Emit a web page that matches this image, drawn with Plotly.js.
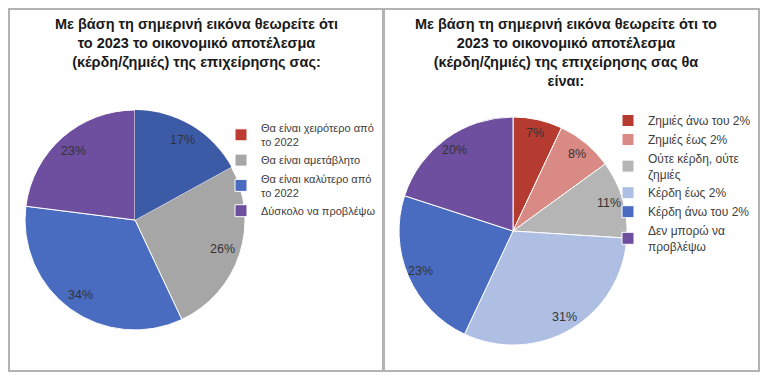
<!DOCTYPE html>
<html>
<head>
<meta charset="utf-8">
<script src="https://cdn.plot.ly/plotly-3.0.1.min.js"></script>
<style>html,body{margin:0;padding:0;background:#fff;}#chart{width:769px;height:384px;}</style>
</head>
<body>
<div id="chart"></div>
<script>
// ---- data ----
const leftTitle = 'Με βάση τη σημερινή εικόνα θεωρείτε ότι<br>το 2023 το οικονομικό αποτέλεσμα<br>(κέρδη/ζημιές) της επιχείρησης σας:';
const rightTitle = 'Με βάση τη σημερινή εικόνα θεωρείτε ότι το<br>2023 το οικονομικό αποτέλεσμα<br>(κέρδη/ζημιές) της επιχείρησης σας θα<br>είναι:';
const leftLabels = ['Θα είναι χειρότερο από<br>το 2022', 'Θα είναι αμετάβλητο', 'Θα είναι καλύτερο από<br>το 2022', 'Δύσκολο να προβλέψω'];
const leftValues = [17, 26, 34, 23];
const rightLabels = ['Ζημιές άνω του 2%', 'Ζημιές έως 2%', 'Ούτε κέρδη, ούτε<br>ζημιές', 'Κέρδη έως 2%', 'Κέρδη άνω του 2%', 'Δεν μπορώ να<br>προβλέψω'];
const rightValues = [7, 8, 11, 31, 23, 20];

// ---- styles ----
const leftLegendColors = ['#be3b33', '#a6a6a6', '#4a6cc0', '#6e4e9e'];
const leftSliceColors = ['#3c5ba7', 'rgba(0,0,0,0)', 'rgba(0,0,0,0)', 'rgba(0,0,0,0)'];
const rightColors = ['#b53a30', '#d98a85', '#b5b5b5', '#aebfe3', '#4a6cc0', '#6e4e9e'];
const W = 769, H = 384;
const px = v => v / W, py = v => 1 - v / H;
const FONT = 'Liberation Sans, Arial, sans-serif';
const lineW = {color: '#ffffff', width: 1};

// pie geometry (pixels): centre and radius
const leftPie = {cx: 135, cy: 220, r: 110, k: 0.84};
const rightPie = {cx: 513, cy: 231, r: 114, k: 0.88};
const domainOf = p => ({x: [px(p.cx - p.r), px(p.cx + p.r)], y: [py(p.cy + p.r), py(p.cy - p.r)]});

// percentage labels placed along each slice's bisector (clockwise from 12 o'clock)
function sliceLabels(values, p) {
  const total = values.reduce((a, b) => a + b, 0);
  let cum = 0;
  return values.map(v => {
    const th = 2 * Math.PI * (cum + v / 2) / total;
    cum += v;
    return {
      text: Math.round(100 * v / total) + '%', xref: 'paper', yref: 'paper',
      x: px(p.cx + p.k * p.r * Math.sin(th)), y: py(p.cy - p.k * p.r * Math.cos(th)),
      xanchor: 'center', yanchor: 'middle', showarrow: false,
      font: {family: FONT, size: 12.5, color: '#333333'}
    };
  });
}

const traces = [
  {
    type: 'pie', labels: leftLabels, values: leftValues, domain: domainOf(leftPie),
    sort: false, direction: 'clockwise', rotation: 0,
    marker: {colors: leftLegendColors, line: lineW},
    textinfo: 'none', hoverinfo: 'label+percent', legend: 'legend'
  },
  {
    type: 'pie', labels: leftLabels, values: leftValues, domain: domainOf(leftPie),
    sort: false, direction: 'clockwise', rotation: 0,
    marker: {colors: leftSliceColors, line: {color: 'rgba(0,0,0,0)', width: 0}},
    textinfo: 'none', showlegend: false, hoverinfo: 'skip'
  },
  {
    type: 'pie', labels: rightLabels, values: rightValues, domain: domainOf(rightPie),
    sort: false, direction: 'clockwise', rotation: 0,
    marker: {colors: rightColors, line: lineW},
    textinfo: 'none', hoverinfo: 'label+percent', legend: 'legend2'
  }
];

const layout = {
  width: W, height: H,
  margin: {l: 0, r: 0, t: 0, b: 0},
  paper_bgcolor: '#ffffff',
  font: {family: FONT, color: '#404040'},
  showlegend: true,
  legend: {x: px(221), xanchor: 'left', y: py(114), yanchor: 'top',
    font: {family: FONT, size: 11, color: '#404040'}, bgcolor: 'rgba(0,0,0,0)', tracegroupgap: 0},
  legend2: {x: px(608), xanchor: 'left', y: py(106), yanchor: 'top',
    font: {family: FONT, size: 12, color: '#404040'}, bgcolor: 'rgba(0,0,0,0)', tracegroupgap: 0},
  shapes: [
    {type: 'rect', xref: 'paper', yref: 'paper', x0: px(9), x1: px(383), y0: py(371), y1: py(9),
      line: {color: '#b3b3b3', width: 2}, layer: 'below'},
    {type: 'rect', xref: 'paper', yref: 'paper', x0: px(384), x1: px(759), y0: py(371), y1: py(9),
      line: {color: '#b3b3b3', width: 2}, layer: 'below'}
  ],
  annotations: [
    {text: leftTitle, xref: 'paper', yref: 'paper', x: px(196), y: py(14), xanchor: 'center', yanchor: 'top',
      showarrow: false, font: {family: FONT, size: 14.5, color: '#1a1a1a', weight: 'bold'}, align: 'center'},
    {text: rightTitle, xref: 'paper', yref: 'paper', x: px(566), y: py(14), xanchor: 'center', yanchor: 'top',
      showarrow: false, font: {family: FONT, size: 14.5, color: '#1a1a1a', weight: 'bold'}, align: 'center'}
  ].concat(sliceLabels(leftValues, leftPie), sliceLabels(rightValues, rightPie))
};

Plotly.newPlot('chart', traces, layout, {displayModeBar: false, staticPlot: true});
</script>
</body>
</html>
